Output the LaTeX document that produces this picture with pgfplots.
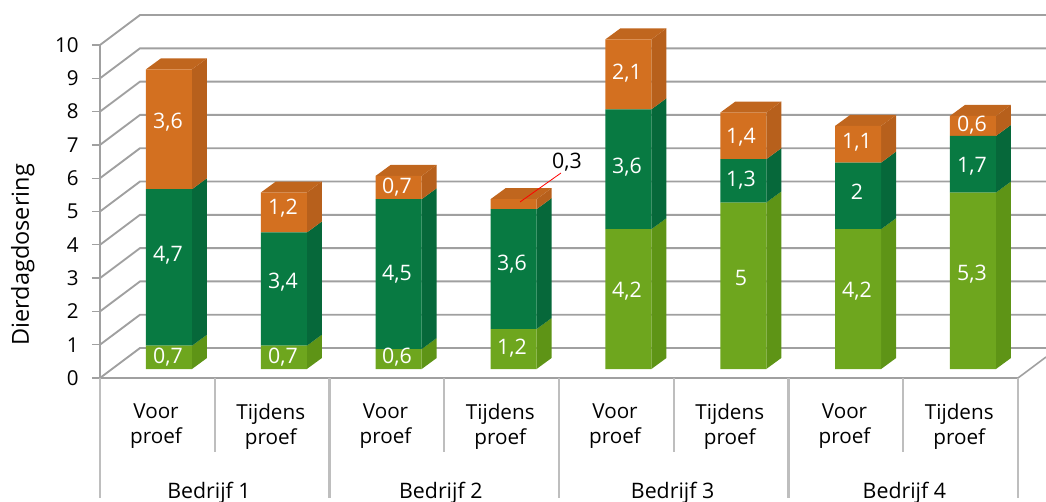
\documentclass[border=0pt]{standalone}
\usepackage{pgfplots}
\usepackage{pgfplotstable}
\usepackage{fontspec}
\setmainfont{Open Sans}
\pgfplotsset{compat=1.18}
\definecolor{lg}{RGB}{110,166,30}
\definecolor{lgs}{RGB}{94,148,22}
\definecolor{dg}{RGB}{8,122,66}
\definecolor{dgs}{RGB}{6,104,58}
\definecolor{or}{RGB}{211,112,32}
\definecolor{ors}{RGB}{183,96,28}
\definecolor{ort}{RGB}{192,102,30}
\definecolor{gridc}{RGB}{160,160,160}
\definecolor{divc}{RGB}{190,190,190}
\pgfplotstableread{
i a b c
0 0.7 4.7 3.6
1 0.7 3.4 1.2
2 0.6 4.5 0.7
3 1.2 3.6 0.3
4 4.2 3.6 2.1
5 5.0 1.3 1.4
6 4.2 2.0 1.1
7 5.3 1.7 0.6
}\datatable
\newcommand{\sideseg}[4]{%
  \pgfmathsetmacro\xr{#1+0.2002}\pgfmathsetmacro\xb{#1+0.3308}%
  \pgfmathsetmacro\ya{#2+0.33}\pgfmathsetmacro\yb{#3+0.33}%
  \addplot[fill=#4,draw=none] coordinates {(\xr,#2) (\xb,\ya) (\xb,\yb) (\xr,#3)} --cycle;%
}
\newcommand{\topface}[2]{%
  \pgfmathsetmacro\xl{#1-0.2002}\pgfmathsetmacro\xr{#1+0.2002}%
  \pgfmathsetmacro\xb{#1+0.3308}\pgfmathsetmacro\xc{#1-0.0696}%
  \pgfmathsetmacro\yb{#2+0.33}%
  \addplot[fill=ort,draw=none] coordinates {(\xl,#2) (\xr,#2) (\xb,\yb) (\xc,\yb)} --cycle;%
}
\newcommand{\stackside}[4]{%
  \pgfmathsetmacro\sa{#2}\pgfmathsetmacro\sb{#2+#3}\pgfmathsetmacro\sc{#2+#3+#4}%
  \edef\tmpA{\noexpand\sideseg{#1}{0}{\sa}{lgs}\noexpand\sideseg{#1}{\sa}{\sb}{dgs}\noexpand\sideseg{#1}{\sb}{\sc}{ors}\noexpand\topface{#1}{\sc}}%
  \tmpA
}
\pgfplotsset{base/.style={
  at={(75pt,-283.5pt)},anchor=south west,scale only axis,width=688.5pt,height=249.75pt,clip=false}}
\begin{document}
\begin{tikzpicture}[x=0.75pt,y=0.75pt]
\useasboundingbox (0,0) rectangle (1046,-502);
% walls, grid, tick labels
\begin{axis}[base,xmin=0,xmax=8,ymin=0,ymax=10,
  axis x line=bottom,axis y line=left,axis line style={gridc,line width=1.5pt,-},
  ytick={0,...,10},tick pos=left,tick align=outside,major tick length=6pt,
  ytick style={gridc,line width=1pt},
  xtick={0.5,1.5,2.5,3.5,4.5,5.5,6.5,7.5},
  xticklabels={{Voor\\proef},{Tijdens\\proef},{Voor\\proef},{Tijdens\\proef},{Voor\\proef},{Tijdens\\proef},{Voor\\proef},{Tijdens\\proef}},
  xtick style={draw=none},
  xticklabel style={align=center,font=\fontsize{15.5}{18.75}\selectfont,yshift=-10pt,xshift=-1pt},
  yticklabel style={font=\fontsize{15.4}{17}\selectfont,xshift=-6.5pt},
  /pgf/number format/assume math mode=true,
  ylabel={Dierdagdosering},
  every axis y label/.style={at={(axis description cs:-0.084,0.37)},rotate=90,anchor=center,font=\fontsize{17.6}{20}\selectfont},
]
\pgfplotsinvokeforeach{0,...,10}{
  \addplot[gridc,line width=1.4pt] coordinates {(0,#1) (0.3486,#1+0.9) (8.244,#1+0.9)};
}
\addplot[gridc,line width=1.2pt] coordinates {(8,0) (8.244,0.63)};
\pgfplotsinvokeforeach{0,2,4,6,8}{
  \addplot[divc,line width=1.7pt] coordinates {(#1,0) (#1,-3.6)};
}
\pgfplotsinvokeforeach{1,3,5,7}{
  \addplot[divc,line width=1.7pt] coordinates {(#1,0) (#1,-2.22)};
}
\node[font=\fontsize{16}{18}\selectfont] at (axis cs:0.95,-3.45) {Bedrijf 1};
\node[font=\fontsize{16}{18}\selectfont] at (axis cs:2.97,-3.45) {Bedrijf 2};
\node[font=\fontsize{16}{18}\selectfont] at (axis cs:4.99,-3.45) {Bedrijf 3};
\node[font=\fontsize{16}{18}\selectfont] at (axis cs:7.01,-3.45) {Bedrijf 4};
\end{axis}
% bar sides and tops
\begin{axis}[base,hide axis,xmin=-0.6007,xmax=7.392,ymin=-0.27,ymax=9.73]
\stackside{0}{0.7}{4.7}{3.6}
\stackside{1}{0.7}{3.4}{1.2}
\stackside{2}{0.6}{4.5}{0.7}
\stackside{3}{1.2}{3.6}{0.3}
\stackside{4}{4.2}{3.6}{2.1}
\stackside{5}{5.0}{1.3}{1.4}
\stackside{6}{4.2}{2.0}{1.1}
\stackside{7}{5.3}{1.7}{0.6}
\end{axis}
% bar fronts
\begin{axis}[base,hide axis,xmin=-0.6007,xmax=7.392,ymin=-0.27,ymax=9.73,
  ybar stacked,bar width=34.5pt]
\addplot[fill=lg,draw=none] table[x=i,y=a]{\datatable};
\addplot[fill=dg,draw=none] table[x=i,y=b]{\datatable};
\addplot[fill=or,draw=none] table[x=i,y=c]{\datatable};
\end{axis}
% data labels, in reference pixels
\begin{axis}[base,hide axis,xmin=100,xmax=1018,ymin=-378,ymax=-45]
\addplot[red,line width=0.6pt] coordinates {(520,-202) (561,-173)};
\newcommand{\pl}[4][white]{\node[text=#1,font=\fontsize{16}{18}\selectfont] at (axis cs:#2,-#3) {#4};}
\pl{168}{357}{0,7}\pl{168}{255}{4,7}\pl{168}{122}{3,6}
\pl{283}{357}{0,7}\pl{283}{282}{3,4}\pl{283}{208}{1,2}
\pl{397}{357}{0,6}\pl{397}{274}{4,5}\pl{397}{187}{0,7}
\pl{512}{348}{1,2}\pl{512}{264}{3,6}\pl[black]{567}{162}{0,3}
\pl{627}{291}{4,2}\pl{627}{167}{3,6}\pl{627}{73}{2,1}
\pl{741}{278}{5}\pl{741}{180}{1,3}\pl{741}{137}{1,4}
\pl{857}{291}{4,2}\pl{857}{192}{2}\pl{857}{142}{1,1}
\pl{972}{274}{5,3}\pl{972}{166}{1,7}\pl{972}{125}{0,6}
\end{axis}
\end{tikzpicture}
\end{document}
